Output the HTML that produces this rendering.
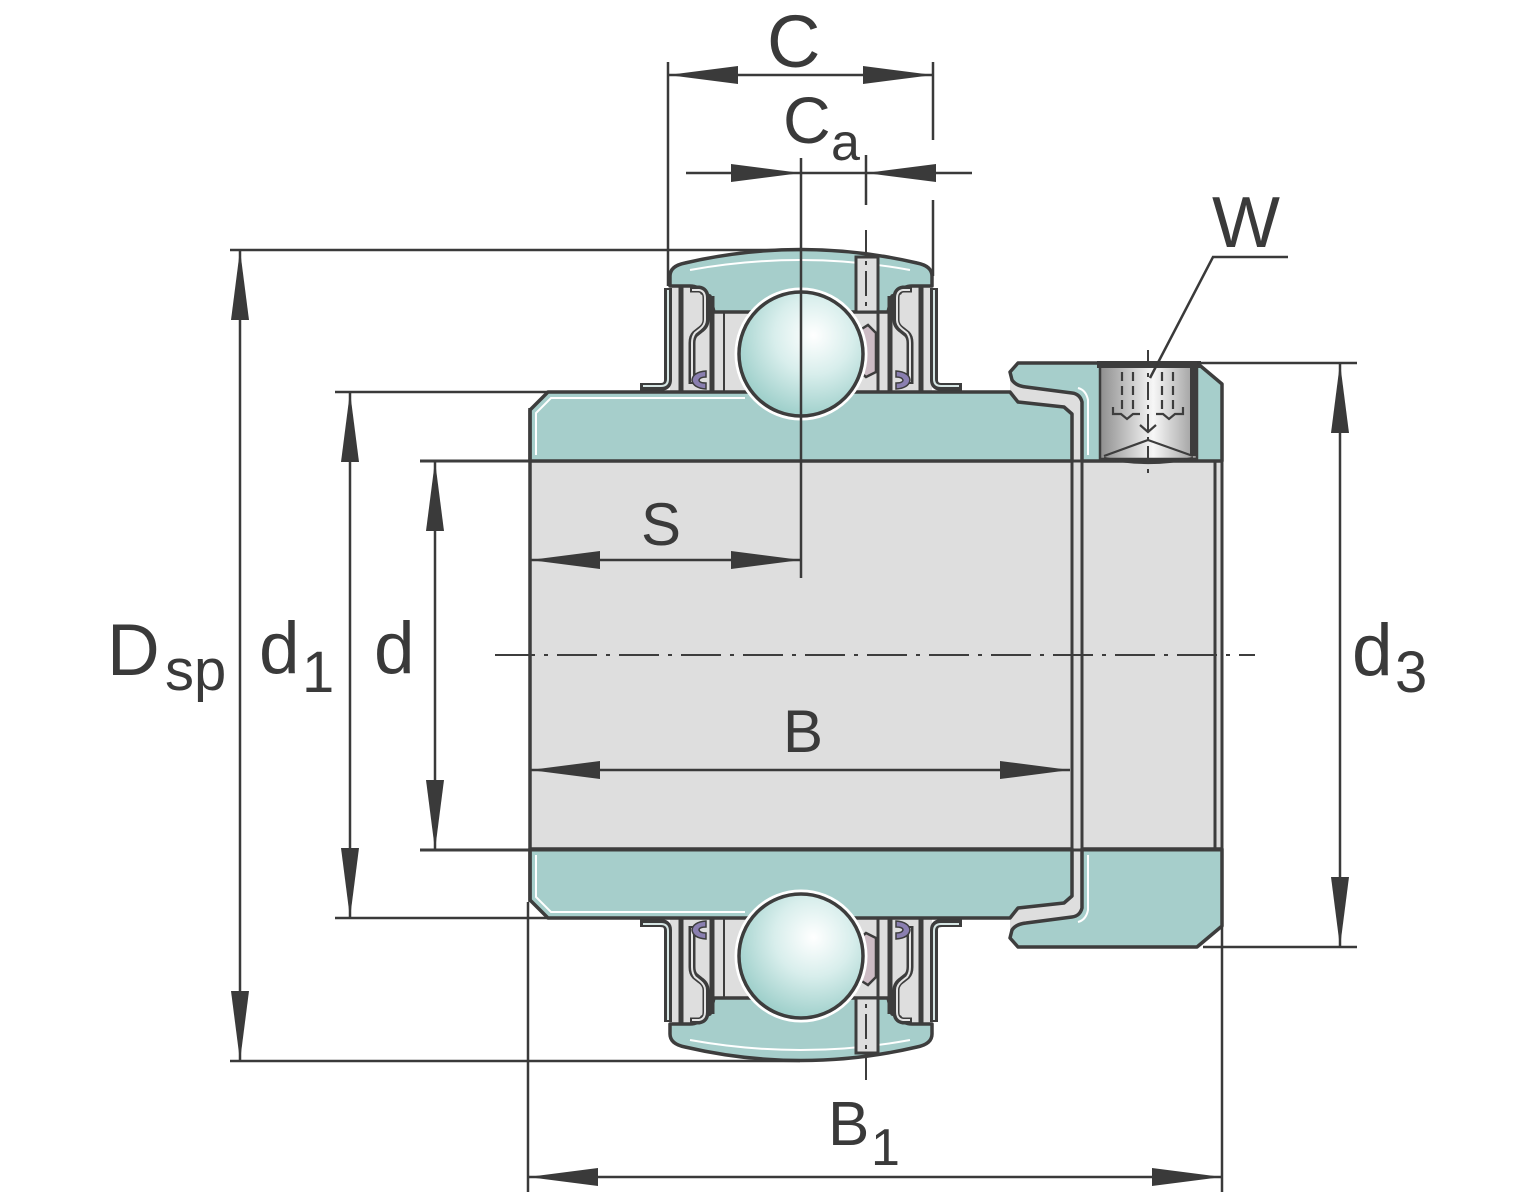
<!DOCTYPE html>
<html><head><meta charset="utf-8"><style>
html,body{margin:0;padding:0;background:#fff;}
svg{display:block;}
text{font-family:"Liberation Sans",Arial,sans-serif;fill:#3a3a3a;}
</style></head><body>
<svg width="1530" height="1200" viewBox="0 0 1530 1200" xmlns="http://www.w3.org/2000/svg">
<defs>
<radialGradient id="ball" cx="0.6" cy="0.35" r="0.7">
<stop offset="0" stop-color="#ffffff"/>
<stop offset="0.45" stop-color="#d8eeec"/>
<stop offset="1" stop-color="#98ccc7"/>
</radialGradient>
<linearGradient id="screw" x1="0" x2="1" y1="0" y2="0">
<stop offset="0" stop-color="#8e8e8e"/>
<stop offset="0.55" stop-color="#f7f7f7"/>
<stop offset="1" stop-color="#9a9a9a"/>
</linearGradient>
<g id="seal">
<path d="M668 288 L668 380 Q668 387 660 387 L640 387" fill="none" stroke="#3d3d3d" stroke-width="8" stroke-linejoin="round"/>
<path d="M668 290 L668 379 Q668 386 661 386 L643 386" fill="none" stroke="#d6e6e4" stroke-width="2"/>
<line x1="681" y1="286" x2="681" y2="392" stroke="#3d3d3d" stroke-width="5"/>
<path d="M690 289 L699 289 Q706 290 706 298 L706 320 Q706 326 700 330 L695 334 Q692 337 692 343 L692 384" fill="none" stroke="#3d3d3d" stroke-width="7" stroke-linejoin="round"/>
<path d="M692 290 L699 290 Q705 291 705 298 L705 320 Q705 325 700 329 L695 333 Q692 337 692 343 L692 382" fill="none" stroke="#e4e4e4" stroke-width="2"/>
<line x1="712" y1="296" x2="712" y2="392" stroke="#3d3d3d" stroke-width="5"/>
<path d="M706 371 Q693 372 692 380 Q693 388 706 389 L706 383 Q699 383 699 380 Q700 377 706 377 Z" fill="#8a7fb0" stroke="#3d3d3d" stroke-width="1.5"/>
</g>
<g id="half">
<rect x="670" y="283" width="262" height="109" fill="#dedede"/>
<rect x="1010" y="380" width="74" height="81" fill="#dedede"/>
<path d="M670 286 L670 276 Q670 266 685 263 Q801 236 917 263 Q932 266 932 276 L932 286 L912 286 Q903 286 900 293 L892 296 L888 312 L714 312 L710 296 L702 293 Q699 286 690 286 Z" fill="#a6cecb" stroke="#3d3d3d" stroke-width="3.5" stroke-linejoin="round"/>
<path d="M690 270 Q801 250 910 270" fill="none" stroke="#ffffff" stroke-width="2"/>
<rect x="856" y="257" width="22" height="55" fill="#dedede" stroke="#3d3d3d" stroke-width="3"/>
<line x1="866" y1="230" x2="866" y2="312" stroke="#3d3d3d" stroke-width="2" stroke-dasharray="25 6 4 6"/>
<use href="#seal"/>
<use href="#seal" transform="translate(1602,0) scale(-1,1)"/>
<line x1="878" y1="312" x2="878" y2="392" stroke="#3d3d3d" stroke-width="3"/>
<line x1="724" y1="312" x2="724" y2="392" stroke="#3d3d3d" stroke-width="2"/>
<path d="M860 330 L868 325 L876 333 L876 372 L866 377 L860 372 Z" fill="#cdbcc5" stroke="#3d3d3d" stroke-width="2.5"/>
<path d="M548 392 L1010 392 L1018 402 L1064 407 L1072 414 L1072 461 L530 461 L530 410 Z" fill="#a6cecb" stroke="#3d3d3d" stroke-width="3.5" stroke-linejoin="round"/>
<path d="M536 455 L536 413 L551 398 L745 398" fill="none" stroke="#ffffff" stroke-width="2"/>
<path d="M1018 363 L1197 363 L1222 384 L1222 461 L1082 461 L1082 402 Q1080 394 1072 393 L1026 387 Q1016 386 1012 380 L1010 372 Z" fill="#a6cecb" stroke="#3d3d3d" stroke-width="3.5" stroke-linejoin="round"/>
<path d="M1088 455 L1088 400 Q1086 390 1078 388" fill="none" stroke="#ffffff" stroke-width="2"/>
</g>
</defs>

<rect x="530" y="461" width="692" height="389" fill="#dedede"/>

<use href="#half"/>
<use href="#half" transform="translate(0,1310) scale(1,-1)"/>

<line x1="420" y1="461" x2="1222" y2="461" stroke="#3d3d3d" stroke-width="3"/>
<line x1="420" y1="850" x2="1222" y2="850" stroke="#3d3d3d" stroke-width="3"/>
<line x1="530" y1="408" x2="530" y2="902" stroke="#3d3d3d" stroke-width="3.5"/>
<line x1="1072" y1="461" x2="1072" y2="850" stroke="#3d3d3d" stroke-width="3"/>
<line x1="1082" y1="461" x2="1082" y2="850" stroke="#3d3d3d" stroke-width="3"/>
<line x1="1215" y1="461" x2="1215" y2="850" stroke="#3d3d3d" stroke-width="3"/>
<line x1="1222" y1="384" x2="1222" y2="926" stroke="#3d3d3d" stroke-width="3"/>

<circle cx="801" cy="354" r="65" fill="none" stroke="#ffffff" stroke-width="3"/>
<circle cx="801" cy="354" r="62" fill="url(#ball)" stroke="#3d3d3d" stroke-width="3.5"/>
<circle cx="801" cy="956" r="65" fill="none" stroke="#ffffff" stroke-width="3"/>
<circle cx="801" cy="956" r="62" fill="url(#ball)" stroke="#3d3d3d" stroke-width="3.5"/>

<rect x="1100" y="366" width="97" height="93" fill="url(#screw)" stroke="#3d3d3d" stroke-width="2.5"/>
<rect x="1097" y="361" width="104" height="7" fill="#3d3d3d"/>
<rect x="1190" y="366" width="7" height="90" fill="#3d3d3d"/>
<g stroke="#3d3d3d" stroke-width="2.2" fill="none">
<line x1="1122" y1="372" x2="1122" y2="410" stroke-dasharray="9 5"/>
<line x1="1133" y1="372" x2="1133" y2="410" stroke-dasharray="9 5"/>
<line x1="1162" y1="372" x2="1162" y2="410" stroke-dasharray="9 5"/>
<line x1="1173" y1="372" x2="1173" y2="410" stroke-dasharray="9 5"/>
<path d="M1113 407 L1113 414 L1121 414 L1127 419 L1133 414 L1140 414"/>
<path d="M1156 414 L1163 414 L1169 419 L1175 414 L1183 414 L1183 407"/>
<path d="M1140 425 L1148 432 L1156 425"/>
<path d="M1104 456 L1148 440 L1193 456"/>
<path d="M1104 458 Q1148 468 1193 458"/>
</g>
<line x1="1148" y1="350" x2="1148" y2="478" stroke="#3d3d3d" stroke-width="2" stroke-dasharray="18 5 4 5"/>

<path d="M1150 378 L1213 257 L1288 257" fill="none" stroke="#3a3a3a" stroke-width="2.5"/>

<line x1="495" y1="655" x2="1255" y2="655" stroke="#3d3d3d" stroke-width="2" stroke-dasharray="40 9 4 9"/>

<g stroke="#3a3a3a" stroke-width="2.5" fill="none">
<line x1="230" y1="250" x2="800" y2="250"/>
<line x1="230" y1="1061" x2="800" y2="1061"/>
<line x1="335" y1="392" x2="548" y2="392"/>
<line x1="335" y1="918" x2="548" y2="918"/>
<line x1="1197" y1="363" x2="1357" y2="363"/>
<line x1="1203" y1="947" x2="1357" y2="947"/>
<line x1="668" y1="62" x2="668" y2="286"/>
<line x1="933" y1="62" x2="933" y2="140"/>
<line x1="933" y1="200" x2="933" y2="276"/>
<line x1="801" y1="158" x2="801" y2="578"/>
<line x1="866" y1="155" x2="866" y2="205"/>
<line x1="528" y1="902" x2="528" y2="1192"/>
<line x1="1222" y1="926" x2="1222" y2="1192"/>
<line x1="240" y1="250" x2="240" y2="1061"/>
<line x1="350" y1="392" x2="350" y2="918"/>
<line x1="435" y1="461" x2="435" y2="850"/>
<line x1="1340" y1="363" x2="1340" y2="947"/>
<line x1="668" y1="75" x2="933" y2="75"/>
<line x1="686" y1="173" x2="972" y2="173"/>
<line x1="530" y1="560" x2="801" y2="560"/>
<line x1="530" y1="770" x2="1070" y2="770"/>
<line x1="528" y1="1177" x2="1222" y2="1177"/>
</g>
<g fill="#3a3a3a">
<polygon points="240,250 231,320 249,320"/>
<polygon points="240,1061 231,991 249,991"/>
<polygon points="350,392 341,462 359,462"/>
<polygon points="350,918 341,848 359,848"/>
<polygon points="435,461 426,531 444,531"/>
<polygon points="435,850 426,780 444,780"/>
<polygon points="1340,363 1331,433 1349,433"/>
<polygon points="1340,947 1331,877 1349,877"/>
<polygon points="668,75 738,66 738,84"/>
<polygon points="933,75 863,66 863,84"/>
<polygon points="801,173 731,164 731,182"/>
<polygon points="866,173 936,164 936,182"/>
<polygon points="530,560 600,551 600,569"/>
<polygon points="801,560 731,551 731,569"/>
<polygon points="530,770 600,761 600,779"/>
<polygon points="1070,770 1000,761 1000,779"/>
<polygon points="528,1177 598,1168 598,1186"/>
<polygon points="1222,1177 1152,1168 1152,1186"/>
</g>

<text x="767" y="67" font-size="74">C</text>
<text x="783" y="143" font-size="66">C</text>
<text x="831" y="160" font-size="52">a</text>
<text x="1212" y="247" font-size="72">W</text>
<text x="641" y="545" font-size="60">S</text>
<text x="783" y="752" font-size="60">B</text>
<text x="107" y="675" font-size="73">D</text>
<text x="165" y="690" font-size="58">sp</text>
<text x="259" y="673" font-size="73">d</text>
<text x="302" y="692" font-size="58">1</text>
<text x="374" y="673" font-size="73">d</text>
<text x="1352" y="675" font-size="73">d</text>
<text x="1395" y="692" font-size="58">3</text>
<text x="828" y="1145" font-size="62">B</text>
<text x="871" y="1165" font-size="52">1</text>
</svg>
</body></html>
